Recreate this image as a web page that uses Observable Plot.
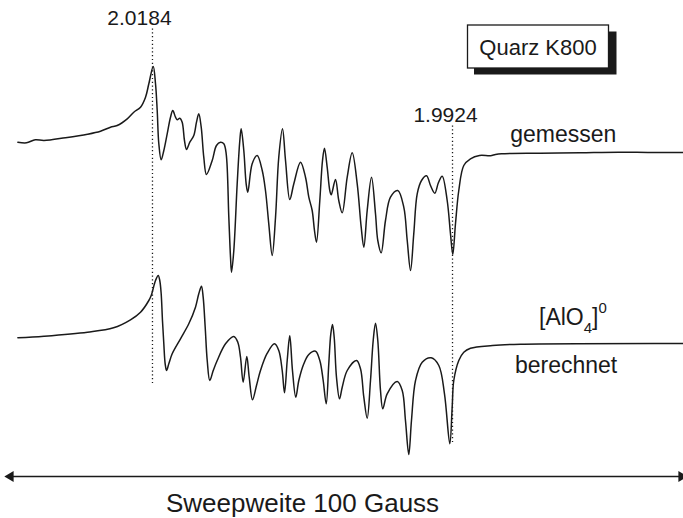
<!DOCTYPE html>
<html>
<head>
<meta charset="utf-8">
<script src="https://cdn.jsdelivr.net/npm/d3@7"></script>
<script src="https://cdn.jsdelivr.net/npm/@observablehq/plot@0.6"></script>
<style>
  html, body { margin: 0; padding: 0; background: #fff; }
  #chart { width: 683px; height: 518px; }
  svg text { font-family: "Liberation Sans", Arial, Helvetica, sans-serif; }
</style>
</head>
<body>
<div id="chart"></div>
<script>
// EPR spectrum of the [AlO4]0 centre in quartz K800.
// Each point: [field offset within the 100 G sweep (G), signal (arb. units)]
const measured = [
  [1.39, 10.3], [2.67, 9.7], [3.97, 12.7], [5.26, 12], [8.44, 14.8], [11.70, 18.3],
  [13.63, 21.3], [15.11, 25.3], [16.10, 27], [17.59, 33.7], [18.56, 40.3], [19.56, 45.3],
  [20.30, 55.3], [20.79, 68.7], [21.44, 86], [21.78, 68.7], [22.03, 42], [22.27, 8.7],
  [22.62, -7.3], [23.01, 2], [23.51, 18.7], [24.00, 35.3], [24.34, 42], [24.74, 35.3],
  [24.99, 32.7], [25.38, 34.3], [25.73, 30.3], [26.07, 12], [26.37, 3], [26.86, 10.3],
  [27.45, 17], [27.85, 30.3], [28.19, 38.7], [28.55, 25.3], [28.93, -4.7], [29.33, -22],
  [30.18, -8], [30.81, 7], [31.41, 10.3], [31.90, 8.7], [32.25, -1.3], [32.64, -64.7],
  [32.89, -104.7], [33.04, -119.7], [33.38, -98], [33.88, -31.3], [34.27, 12], [34.47, 23.7],
  [34.86, 2], [35.21, -31.3], [35.45, -39.7], [36.10, -11.3], [36.84, -3], [37.59, -18],
  [38.07, -38], [38.56, -71.3], [39.07, -103], [39.56, -64.7], [40.04, -4.7], [40.59, 23.7],
  [41.04, -8], [41.67, -47], [42.27, -31.3], [43.26, -9.7], [44.00, -24.7], [44.49, -44.7],
  [44.99, -58], [45.33, -78], [45.63, -89.7], [46.12, -48], [46.52, -8], [46.81, 4.3],
  [47.21, -14.7], [47.60, -38], [47.81, -42.3], [48.44, -27], [48.93, -48], [49.44, -60.3],
  [50.18, -24.7], [50.92, -0.3], [51.66, -31.3], [52.25, -74.7], [52.64, -94.7], [53.14, -58],
  [53.78, -24.7], [54.37, -61.3], [54.71, -88], [55.21, -100.3], [55.85, -68], [56.59, -44.7],
  [57.67, -38], [58.56, -54.7], [59.07, -88], [59.56, -118], [60.04, -81.3], [60.55, -41.3],
  [61.19, -28], [61.93, -23.3], [62.52, -33], [63.16, -40.7], [63.70, -30], [64.25, -23.7],
  [64.99, -48], [65.48, -81.3], [65.82, -102], [66.22, -71.3], [66.71, -38], [67.45, -13],
  [68.44, -6.3], [69.78, -3], [71.41, -3.2], [72.15, -2], [73.04, -1.3], [78.81, -0.7],
  [84.74, -0.2], [90.37, 0.3], [95.11, 0], [100, 0]
];

const calculated = [
  [1.39, 5.7], [5.26, 7.3], [11.70, 11.3], [15.56, 15.7], [18.07, 23.7], [19.56, 31.3],
  [20.79, 43], [21.14, 48], [21.78, 63], [22.18, 68], [22.41, 63], [22.62, 49.7],
  [22.81, 23], [23.01, -0.3], [23.21, -20.3], [23.41, -27], [23.75, -20.3], [24.25, -10.3],
  [25.48, 4.7], [26.71, 19.7], [27.70, 36.3], [28.19, 49.7], [28.59, 57.3], [28.84, 46.3],
  [29.14, 16.3], [29.44, -17], [29.82, -37], [30.33, -27], [30.92, -17], [32.15, -0.3],
  [33.38, 7], [33.97, 1.3], [34.37, -13.7], [34.77, -38.7], [35.30, -13], [35.66, -33.7],
  [36.15, -56.3], [36.74, -42], [37.33, -27], [38.33, -9.7], [39.41, -0.3], [40.04, -7],
  [40.55, -27], [40.89, -49.3], [41.29, -17], [41.67, 7.7], [42.07, -27], [42.56, -53.7],
  [43.01, -37], [43.75, -20.3], [44.49, -11], [45.48, -7.7], [46.12, -17], [46.62, -37],
  [47.07, -60.3], [47.45, -20.3], [47.75, 9.7], [48.00, 19], [48.25, 6.3], [48.59, -33.7],
  [49.04, -55.3], [49.44, -43.7], [50.18, -27], [51.56, -17], [52.15, -25.3], [52.64, -53.7],
  [53.14, -74.7], [53.63, -37], [54.03, 3], [54.37, 20.3], [54.71, 3], [55.11, -47],
  [55.45, -65.3], [56.10, -50.3], [57.59, -38], [58.33, -47], [58.81, -77], [59.30, -111],
  [59.70, -77], [60.30, -37], [61.29, -18.7], [62.62, -14.3], [63.75, -22], [64.59, -50.3],
  [65.38, -100.3], [65.73, -63.7], [65.97, -37], [66.71, -17], [67.45, -8.7], [68.44, -4.7],
  [71.70, -2], [75.85, -0.7], [100, 0]
];

// g-factor markers (field position within the sweep)
const gMarkers = [
  { label: "2.0184", field: 21.33 },
  { label: "1.9924", field: 65.78 }
];

const sweepLabel = "Sweepweite 100 Gauss";
const sampleLabel = "Quarz K800";
const traceLabels = { measured: "gemessen", calculated: "berechnet" };

// vertical layout (signal units): the calculated trace sits below the measured one
const calcOffset = -191;
const ink = "#1a1a1a";

const toRows = (pts, offset) => pts.map(([field, signal]) => ({ field, y: signal + offset }));
const measRows = toRows(measured, 0);
const calcRows = toRows(calculated, calcOffset);

// extents of the dotted g-marker lines and horizontal label nudge (G)
const markerSpan = [{ top: 124, bottom: -233, shift: -1.93 }, { top: 27, bottom: -292, shift: -1.04 }];
const markerRows = gMarkers.map((m, i) => ({ ...m, ...markerSpan[i] }));

const arrowY = -324;

const chart = Plot.plot({
  width: 683,
  height: 518,
  marginLeft: 8,
  marginRight: 0,
  marginTop: 0,
  marginBottom: 0,
  x: { domain: [0, 100], axis: null },
  y: { domain: [-366, 152], axis: null },
  style: { background: "#fff", overflow: "visible" },
  marks: [
    // dotted g-marker lines
    Plot.link(markerRows, {
      x1: "field", x2: "field", y1: "top", y2: "bottom",
      stroke: ink, strokeWidth: 1.3, strokeDasharray: "1.2,2.6"
    }),
    Plot.text(markerRows, {
      x: d => d.field + d.shift, y: d => d.top + 4, text: "label",
      lineAnchor: "bottom", fontSize: 21, fill: ink
    }),
    // spectra
    Plot.line(measRows, { x: "field", y: "y", curve: "catmull-rom", stroke: ink, strokeWidth: 1.5 }),
    Plot.line(calcRows, { x: "field", y: "y", curve: "catmull-rom", stroke: ink, strokeWidth: 1.5 }),
    // sweep width arrow
    Plot.ruleY([arrowY], { x1: 0.6, x2: 100, stroke: ink, strokeWidth: 1.6 }),
    Plot.dot([{ x: 0.3, r: -90 }, { x: 99.7, r: 90 }], {
      x: "x", y: arrowY, symbol: "triangle", r: 4, rotate: "r", fill: ink, stroke: "none"
    }),
    Plot.text([sweepLabel], { x: 43.56, y: -359, text: d => d, lineAnchor: "bottom", fontSize: 26, fill: ink }),
    Plot.text([traceLabels.measured], { x: 82.2, y: 11, text: d => d, lineAnchor: "bottom", fontSize: 23, fill: ink }),
    Plot.text([traceLabels.calculated], { x: 82.6, y: -220, text: d => d, lineAnchor: "bottom", fontSize: 23, fill: ink })
  ]
});

document.getElementById("chart").appendChild(chart);

// sample label box with drop shadow, and the [AlO4]0 species label
const svg = d3.select(chart);
const box = svg.append("g");
box.append("rect").attr("x", 474).attr("y", 31.5).attr("width", 142.5).attr("height", 43).attr("fill", ink);
box.append("rect").attr("x", 467.5).attr("y", 25).attr("width", 141).attr("height", 43)
  .attr("fill", "#fff").attr("stroke", ink).attr("stroke-width", 1.3);
box.append("text").attr("x", 538).attr("y", 55).attr("text-anchor", "middle")
  .attr("font-size", 22).attr("fill", ink).text(sampleLabel);

const species = svg.append("text").attr("x", 539).attr("y", 325)
  .attr("text-anchor", "start").attr("font-size", 23).attr("fill", ink);
species.append("tspan").text("[AlO");
species.append("tspan").attr("font-size", 15).attr("dy", 8).text("4");
species.append("tspan").attr("dy", -8).text("]");
species.append("tspan").attr("font-size", 15).attr("dy", -12).text("0");
</script>
</body>
</html>
